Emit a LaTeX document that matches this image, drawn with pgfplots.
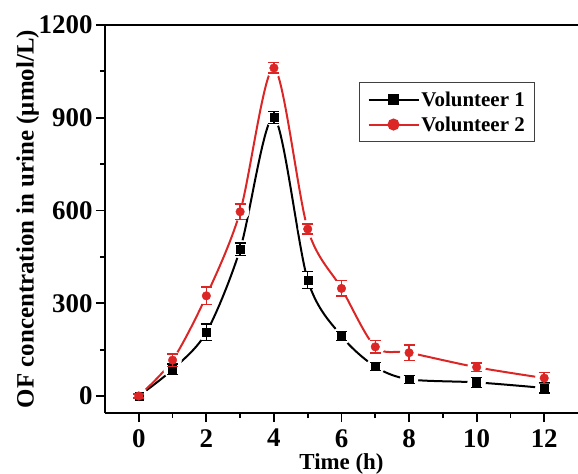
\documentclass[border=0pt]{standalone}
\usepackage{fontspec}
\setmainfont{Liberation Serif}
\usepackage{pgfplots}
\pgfplotsset{compat=1.18}
\usepackage{pgfplotstable}
\definecolor{vred}{RGB}{220,38,38}

\pgfplotstableread{
x y e
0 0 6
1 86 17
2 206 27
3 475 20
4 901 20
5 375 27
6 194 14
7 95 13
8 54 13
10 44 16
12 26 16
}\volA
\pgfplotstableread{
x y e
0 0 6
1 116 20
2 324 28
3 596 25
4 1061 17
5 540 16
6 348 25
7 159 20
8 140 25
10 93 14
12 58 18
}\volB

\begin{document}
\begin{tikzpicture}
\begin{axis}[
  scale only axis, width=473bp, height=388bp,
  xmin=-1, xmax=13, ymin=-55, ymax=1200,
  clip marker paths=true,
  axis x line*=bottom, axis y line*=left,
  axis line style={line width=2.4bp, black},
  xtick={0,2,...,12}, ytick={0,300,...,1200},
  minor x tick num=1, minor y tick num=1,
  tick align=outside,
  major tick length=9bp, minor tick length=5bp,
  every tick/.style={line width=1.8bp, black},
  /pgf/number format/assume math mode=true,
  /pgf/number format/1000 sep={},
  ticklabel style={font=\fontsize{27}{27}\selectfont\bfseries},
  xticklabel style={inner sep=1bp, yshift=-6bp},
  xlabel={Time (h)},
  ylabel={OF concentration in urine (μmol/L)},
  xlabel style={font=\fontsize{23}{23}\selectfont\bfseries, yshift=-2bp},
  ylabel style={font=\fontsize{25}{25}\selectfont\bfseries},
  ylabel shift=-7bp,
  legend style={at={(0.537,0.853)}, anchor=north west, draw=black!75, line width=1bp,
    font=\fontsize{21}{21}\selectfont\bfseries, row sep=5bp, inner xsep=8bp, inner ysep=7bp},
  legend cell align=left,
  legend image code/.code={\draw[mark repeat=2,mark phase=2,#1] plot coordinates {(0bp,0bp) (25bp,0bp) (50bp,0bp)};},
]
\addlegendimage{black, line width=2bp, mark=square*, mark size=4.5bp}
\addlegendentry{Volunteer 1}
\addlegendimage{vred, line width=2bp, mark=*, mark size=5bp}
\addlegendentry{Volunteer 2}

\addplot[black, line width=2bp, smooth, tension=0.5, forget plot] table[x=x,y=y]{\volA};
\addplot[vred, line width=2bp, smooth, tension=0.5, forget plot] table[x=x,y=y]{\volB};
\addplot[only marks, mark=*, mark size=9bp, mark options={draw=white, fill=white}, forget plot] table[x=x,y=y]{\volA};
\addplot[only marks, mark=*, mark size=9bp, mark options={draw=white, fill=white}, forget plot] table[x=x,y=y]{\volB};
\addplot[only marks, black, mark=square*, mark size=4bp, forget plot,
  error bars/.cd, y dir=both, y explicit,
  error bar style={line width=1.5bp, black},
  error mark options={rotate=90, mark size=5.5bp, line width=1.5bp, black}]
  table[x=x,y=y,y error=e]{\volA};
\addplot[only marks, vred, mark=*, mark size=4.3bp, forget plot,
  error bars/.cd, y dir=both, y explicit,
  error bar style={line width=1.5bp, vred},
  error mark options={rotate=90, mark size=5.5bp, line width=1.5bp, vred}]
  table[x=x,y=y,y error=e]{\volB};

\draw[line width=2bp] (rel axis cs:0,1) -- (rel axis cs:1,1);
\coordinate (sw) at (rel axis cs:0,0);
\coordinate (ne) at (rel axis cs:1,1);
\end{axis}
\pgfresetboundingbox
\path ([shift={(-105bp,-60.3bp)}]sw) rectangle ([shift={(0bp,25bp)}]ne);
\end{tikzpicture}
\end{document}
